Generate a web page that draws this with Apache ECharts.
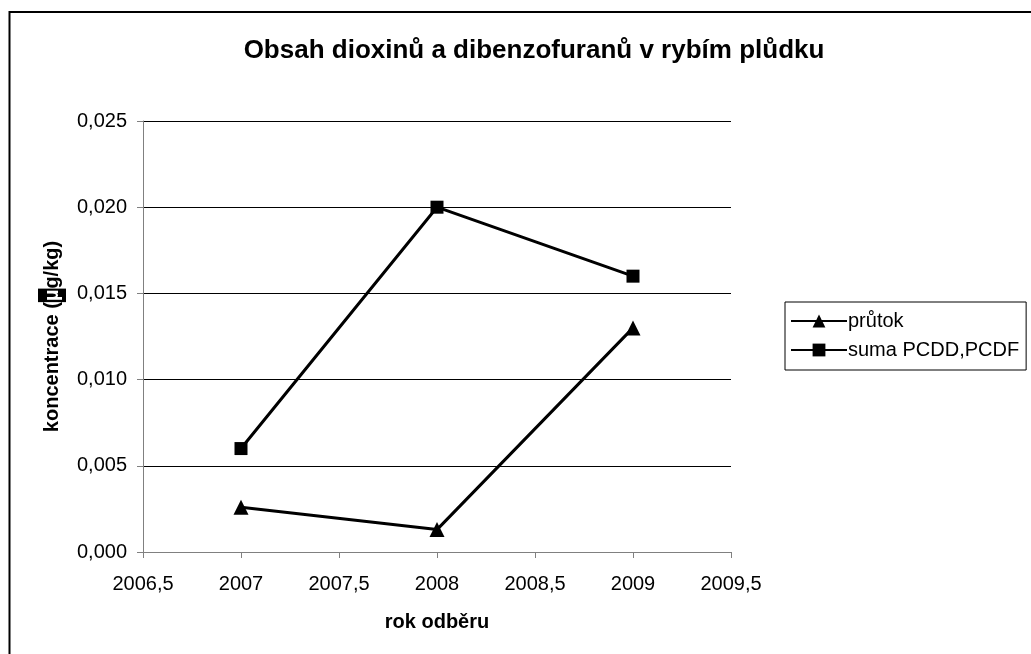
<!DOCTYPE html>
<html>
<head>
<meta charset="utf-8">
<script src="https://cdn.jsdelivr.net/npm/echarts@6/dist/echarts.min.js"></script>
<style>html,body{margin:0;padding:0;background:#fff}#c{width:1031px;height:654px}</style>
</head>
<body>
<div id="c"></div>
<script>
const years = [2007, 2008, 2009];
const prutok = [0.0026, 0.0013, 0.0130];
const suma = [0.0060, 0.0200, 0.0160];
const seriesNames = ['průtok', 'suma PCDD,PCDF'];
const titleText = 'Obsah dioxinů a dibenzofuranů v rybím plůdku';
const xName = 'rok odběru';

const font = 'Arial, "Liberation Sans", sans-serif';
const fmt = (v, d) => v.toFixed(d).replace('.', ',');
const chart = echarts.init(document.getElementById('c'));
chart.setOption({
  animation: false,
  backgroundColor: '#fff',
  textStyle: { fontFamily: font },
  graphic: [{
    type: 'rect', z: -1,
    shape: { x: 9.5, y: 12, width: 1100, height: 700 },
    style: { fill: 'none', stroke: '#000', lineWidth: 2 }
  }],
  title: {
    text: titleText, left: 529, textAlign: 'center', top: 33,
    textStyle: { fontFamily: font, fontSize: 26, fontWeight: 'bold', color: '#000' }
  },
  legend: {
    orient: 'vertical', left: 785, top: 302,
    padding: [9, 7, 10, 5], itemGap: 9,
    borderColor: '#000', borderWidth: 1,
    itemWidth: 56, itemHeight: 16,
    textStyle: { fontFamily: font, fontSize: 20, color: '#000', padding: [0, 0, 0, -4] },
    data: seriesNames
  },
  grid: { left: 143, top: 121, right: 300, bottom: 102, containLabel: false },
  xAxis: {
    type: 'value', min: 2006.5, max: 2009.5, interval: 0.5,
    name: xName, nameLocation: 'middle', nameGap: 60,
    nameTextStyle: { fontFamily: font, fontSize: 20, fontWeight: 'bold', color: '#000' },
    axisLine: { show: true, lineStyle: { color: '#808080', width: 1 } },
    axisTick: { show: true, inside: false, length: 6, lineStyle: { color: '#808080' } },
    axisLabel: { fontFamily: font, fontSize: 20, color: '#000', margin: 22,
      formatter: v => (Math.round(v) === v ? String(v) : fmt(v, 1)) },
    splitLine: { show: false }
  },
  yAxis: {
    type: 'value', min: 0, max: 0.025, interval: 0.005,
    name: 'koncentrace ({hl|µ}g/kg)', nameLocation: 'middle', nameGap: 77,
    nameTextStyle: { fontFamily: font, fontSize: 20, fontWeight: 'bold', color: '#000',
      rich: { hl: { backgroundColor: '#000', color: '#fff', fontSize: 20, fontWeight: 'bold', fontFamily: font, padding: [4, 1, 4, 1] } } },
    axisLine: { show: true, lineStyle: { color: '#808080', width: 1 } },
    axisTick: { show: true, inside: false, length: 6, lineStyle: { color: '#808080' } },
    axisLabel: { fontFamily: font, fontSize: 20, color: '#000', margin: 16,
      formatter: v => fmt(v, 3) },
    splitLine: { show: true, lineStyle: { color: '#000', width: 1 } }
  },
  series: [{
    name: seriesNames[0], type: 'line',
    data: years.map((y, i) => [y, prutok[i]]),
    symbol: 'triangle', symbolSize: 15,
    lineStyle: { color: '#000', width: 3 },
    itemStyle: { color: '#000' }
  }, {
    name: seriesNames[1], type: 'line',
    data: years.map((y, i) => [y, suma[i]]),
    symbol: 'rect', symbolSize: 13,
    lineStyle: { color: '#000', width: 3 },
    itemStyle: { color: '#000' }
  }]
});
</script>
</body>
</html>
